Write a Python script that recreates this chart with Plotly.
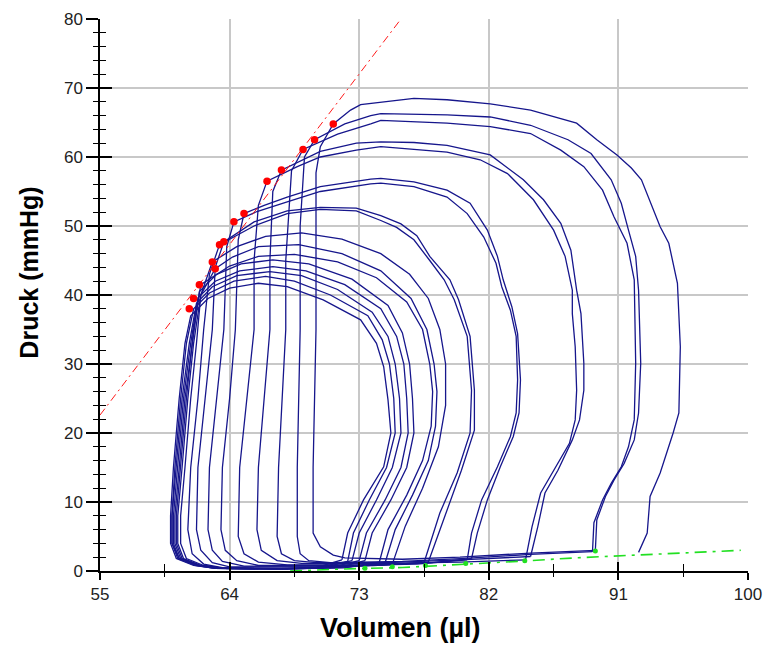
import plotly.graph_objects as go

# ---------------- data ----------------
x_ticks = [55, 64, 73, 82, 91, 100]
y_ticks = [0, 10, 20, 30, 40, 50, 60, 70, 80]

# consecutive pressure-volume cycles (volume in µl, pressure in mmHg)
c01_v = [92.4, 93.0, 93.2, 93.9, 94.8, 95.2, 95.3, 95.2, 95.1, 94.5, 93.9, 92.6, 91.9, 90.9, 89.5, 88.1, 86.5, 84.9, 82.1, 79.1, 76.8, 74.5, 73.1, 72.4, 71.2,
         70.3, 70.0, 70.0, 69.8, 69.8, 70.3, 71.2, 72.0, 76.0, 80.0, 84.9, 89.4]
c01_p = [2.7, 5.5, 10.8, 14.2, 20.0, 22.9, 32.5, 37.0, 41.7, 47.5, 49.9, 56.7, 58.4, 60.3, 62.5, 64.9, 65.9, 66.8, 67.7, 68.3, 68.5, 68.0, 67.6, 66.8, 64.8,
         61.5, 57.7, 35.0, 15.0, 5.5, 3.5, 2.3, 1.9, 1.7, 2.0, 2.6, 3.0]

c02_v = [89.4, 89.5, 90.1, 90.7, 91.4, 92.1, 92.4, 92.55, 92.4, 92.2, 91.7, 91.2, 90.5, 89.1, 87.5, 84.9, 82.1, 79.1, 74.5, 73.8, 72.0, 69.9,
         69.2, 68.9, 68.9, 68.7, 68.7, 68.9, 69.5, 71.0, 76.0, 80.0, 84.9, 89.2]
c02_p = [3.0, 7.4, 10.8, 13.2, 15.6, 19.0, 22.9, 30.1, 40.7, 45.6, 49.4, 53.3, 56.7, 60.5, 62.5, 64.6, 65.8, 66.1, 66.3, 66.0, 64.8, 62.5,
         60.0, 50.0, 35.0, 15.0, 5.0, 2.5, 1.5, 1.2, 1.4, 1.8, 2.4, 2.8]

c03_v = [89.2, 89.3, 89.9, 90.5, 91.2, 91.7, 92.1, 92.2, 92.1, 91.6, 90.7, 89.9, 88.6, 87.0, 84.9, 82.1, 79.1, 74.5, 73.8, 71.5, 69.1,
         68.3, 67.9, 67.9, 67.4, 67.3, 67.6, 68.5, 70.0, 75.0, 80.0, 84.9]
c03_p = [2.8, 7.0, 10.3, 12.7, 15.1, 18.0, 21.9, 30.1, 42.2, 47.5, 51.3, 55.2, 58.6, 61.0, 63.4, 64.4, 64.9, 65.3, 64.8, 63.3, 61.1,
         58.0, 45.0, 35.0, 15.0, 5.0, 2.5, 1.5, 1.2, 1.2, 1.6, 2.1]

c04_v = [84.9, 85.4, 85.9, 86.8, 87.8, 88.3, 88.6, 88.6, 88.4, 88.1, 87.7, 87.0, 85.8, 84.4, 82.1, 79.1, 76.8, 74.5, 72.8, 70.3, 67.6,
         67.0, 66.8, 66.8, 66.0, 65.9, 66.2, 67.3, 69.0, 75.0, 80.0, 84.55]
c04_p = [2.1, 6.4, 11.3, 14.6, 19.0, 21.9, 26.2, 30.1, 37.3, 40.7, 46.5, 50.4, 53.8, 56.7, 60.3, 61.7, 62.1, 62.2, 62.0, 60.8, 58.1,
         55.0, 45.0, 35.0, 15.0, 6.0, 3.0, 1.5, 1.1, 1.1, 1.3, 1.6]

c05_v = [84.55, 85.0, 85.6, 86.5, 87.6, 88.0, 88.1, 88.0, 87.8, 87.8, 87.3, 86.5, 85.1, 83.3, 81.4, 79.1, 74.5, 72.8, 70.3, 68.7, 66.6,
         66.0, 65.7, 65.7, 64.7, 64.6, 65.0, 66.0, 68.0, 74.0, 78.0, 80.8]
c05_p = [1.6, 6.4, 11.3, 14.6, 18.5, 21.9, 26.2, 32.5, 37.3, 40.7, 45.6, 49.4, 53.8, 57.6, 59.6, 60.7, 61.5, 61.0, 60.0, 58.6, 56.5,
         53.0, 45.0, 35.0, 15.0, 5.0, 2.5, 1.3, 0.9, 0.9, 1.2, 1.8]

c06_v = [80.8, 81.2, 81.9, 82.8, 83.7, 84.1, 84.2, 84.0, 83.6, 83.0, 82.6, 81.9, 80.7, 79.1, 76.8, 74.5, 73.8, 70.3, 68.0, 66.4, 65.0,
         64.6, 64.4, 64.0, 63.5, 63.4, 63.7, 64.5, 66.0, 72.0, 77.0, 80.5]
c06_p = [1.8, 5.5, 10.3, 15.1, 19.5, 22.9, 27.7, 34.4, 38.3, 42.2, 45.6, 49.4, 53.3, 55.2, 56.4, 56.9, 56.8, 55.7, 54.2, 53.0, 51.8,
         48.0, 35.0, 25.0, 15.0, 6.0, 3.0, 1.5, 0.8, 0.8, 1.0, 1.6]

c07_v = [80.5, 80.8, 81.5, 82.6, 83.5, 83.9, 84.0, 83.9, 83.5, 82.9, 82.5, 81.65, 80.5, 79.1, 76.8, 74.5, 73.8, 70.3, 68.0, 65.9, 64.3,
         63.8, 63.6, 63.1, 62.6, 62.5, 62.8, 63.5, 65.0, 72.0, 75.0, 77.8]
c07_p = [1.6, 5.5, 10.3, 15.1, 19.5, 22.9, 27.7, 34.0, 37.8, 41.2, 44.6, 48.4, 51.8, 54.2, 55.7, 56.2, 56.1, 55.0, 53.5, 52.1, 50.6,
         47.0, 35.0, 25.0, 15.0, 6.0, 3.0, 1.4, 0.7, 0.7, 0.9, 1.3]

c08_v = [77.8, 79.0, 80.1, 81.0, 81.0, 80.7, 79.9, 79.3, 77.9, 77.0, 75.9, 74.5, 72.8, 70.3, 68.0, 65.7, 63.6,
         63.0, 62.8, 62.3, 61.8, 61.7, 62.0, 62.8, 64.0, 70.0, 74.0, 77.5]
c08_p = [1.3, 8.4, 14.6, 20.4, 26.2, 34.0, 39.3, 42.2, 45.6, 48.6, 50.3, 51.5, 52.6, 52.7, 52.2, 50.6, 47.7,
         44.0, 35.0, 25.0, 15.0, 6.0, 3.0, 1.2, 0.6, 0.6, 0.8, 1.2]

c09_v = [77.5, 78.6, 79.8, 80.7, 80.8, 80.5, 79.6, 78.9, 77.9, 76.8, 75.6, 74.5, 72.8, 70.3, 68.0, 65.7, 63.3,
         62.6, 62.2, 61.8, 61.3, 61.1, 61.4, 62.2, 63.5, 68.0, 72.0, 75.3]
c09_p = [1.2, 8.4, 14.2, 20.0, 26.2, 34.0, 39.3, 42.2, 45.0, 48.0, 49.8, 50.8, 52.2, 52.4, 51.8, 50.0, 47.3,
         43.0, 35.0, 25.0, 15.0, 6.0, 2.5, 1.0, 0.5, 0.4, 0.6, 1.0]

c10_v = [75.3, 76.2, 77.4, 78.5, 79.0, 79.0, 78.6, 77.8, 76.5, 74.5, 71.8, 69.0, 66.5, 64.5, 62.8,
         62.0, 61.7, 61.3, 60.9, 60.6, 60.6, 61.0, 62.2, 63.5, 68.0, 72.0, 74.8]
c10_p = [1.0, 6.5, 12.0, 18.0, 24.0, 30.0, 35.0, 39.5, 43.0, 46.0, 48.1, 49.0, 48.5, 47.0, 44.8,
         40.0, 33.0, 25.0, 15.0, 8.0, 4.0, 1.8, 0.8, 0.4, 0.3, 0.5, 1.2]

c11_v = [74.8, 75.5, 76.7, 77.8, 78.3, 78.4, 78.2, 77.7, 76.6, 74.5, 71.8, 68.8, 66.0, 64.2, 63.0,
         62.0, 61.5, 61.1, 60.7, 60.4, 60.4, 60.8, 62.0, 63.5, 68.0, 72.0, 74.4]
c11_p = [1.2, 6.0, 11.0, 16.0, 21.0, 26.0, 30.0, 35.0, 39.5, 43.5, 46.0, 47.3, 47.0, 45.5, 43.8,
         40.0, 33.0, 25.0, 15.0, 8.0, 4.0, 1.8, 0.8, 0.4, 0.3, 0.5, 1.3]

c12_v = [74.4, 75.0, 76.3, 77.4, 78.0, 78.1, 77.9, 77.4, 76.3, 74.2, 71.5, 68.5, 66.0, 64.0, 62.0,
         61.5, 61.0, 60.6, 60.3, 60.3, 60.7, 62.0, 63.5, 68.0, 71.5, 73.4]
c12_p = [1.3, 6.0, 11.0, 16.0, 21.0, 26.0, 30.0, 35.0, 39.0, 42.5, 44.8, 45.9, 45.6, 44.2, 41.5,
         35.0, 25.0, 15.0, 8.0, 4.0, 1.8, 0.8, 0.4, 0.3, 0.5, 1.5]

c13_v = [73.4, 73.9, 75.2, 76.3, 76.8, 76.7, 76.5, 76.0, 75.0, 72.5, 69.5, 67.0, 64.8, 63.1, 61.9,
         61.4, 60.9, 60.5, 60.2, 60.2, 60.6, 61.9, 63.5, 68.0, 71.0, 73.0]
c13_p = [1.5, 5.5, 10.3, 15.0, 20.0, 25.0, 30.0, 34.5, 38.5, 42.3, 44.5, 45.1, 44.5, 43.0, 40.5,
         33.0, 25.0, 15.0, 8.0, 4.0, 1.8, 0.8, 0.4, 0.3, 0.5, 1.5]

c14_v = [73.0, 73.5, 74.8, 75.9, 76.4, 76.3, 76.1, 75.6, 74.5, 72.0, 69.3, 67.0, 64.7, 63.0, 61.8,
         61.3, 60.8, 60.4, 60.1, 60.1, 60.5, 61.8, 63.5, 67.5, 70.5, 72.5]
c14_p = [1.5, 5.5, 10.3, 15.0, 20.0, 25.0, 30.0, 34.0, 38.0, 41.5, 43.5, 44.1, 43.5, 42.0, 39.6,
         33.0, 25.0, 15.0, 8.0, 4.0, 1.8, 0.8, 0.4, 0.3, 0.5, 1.5]

c15_v = [72.5, 73.0, 74.2, 75.3, 75.9, 75.8, 75.5, 75.0, 73.9, 71.5, 69.0, 66.8, 64.5, 62.8, 61.7,
         61.2, 60.7, 60.3, 60.0, 60.0, 60.5, 61.7, 63.0, 67.0, 70.0, 72.2]
c15_p = [1.5, 5.5, 10.3, 15.0, 20.0, 25.0, 30.0, 34.0, 37.5, 40.8, 42.8, 43.4, 42.8, 41.2, 38.8,
         33.0, 25.0, 15.0, 8.0, 4.0, 1.8, 0.8, 0.4, 0.3, 0.5, 1.4]

c16_v = [72.2, 72.6, 73.7, 74.9, 75.5, 75.4, 75.1, 74.6, 73.6, 71.0, 68.5, 66.5, 64.3, 62.6, 61.5,
         61.0, 60.6, 60.2, 60.0, 60.0, 60.4, 61.6, 63.0, 67.0, 70.0, 71.8]
c16_p = [1.4, 5.5, 10.3, 15.0, 20.0, 25.0, 30.0, 33.5, 37.0, 40.0, 42.0, 42.7, 42.0, 40.3, 38.0,
         33.0, 25.0, 15.0, 8.0, 4.0, 1.8, 0.8, 0.4, 0.3, 0.5, 1.6]

c17_v = [71.8, 72.2, 73.3, 74.7, 75.2, 75.0, 74.7, 74.2, 73.1, 70.5, 68.0, 66.0, 64.0, 62.5, 61.3,
         60.9, 60.5, 60.1, 59.9, 59.9, 60.3, 61.5, 63.0, 66.0]
c17_p = [1.6, 5.5, 10.3, 15.1, 20.0, 24.8, 29.6, 33.0, 36.4, 39.3, 41.2, 41.7, 41.0, 39.5, 37.0,
         33.0, 25.0, 15.0, 8.0, 4.0, 1.8, 0.8, 0.4, 0.3]

# end-systolic points (red) and ESPVR line
es_v = [71.2, 69.9, 69.1, 67.6, 66.6, 65.0, 64.3, 63.6, 63.3, 62.8, 63.0, 61.9, 61.5, 61.2]
es_p = [64.8, 62.5, 61.1, 58.1, 56.5, 51.8, 50.6, 47.7, 47.3, 44.8, 43.8, 41.5, 39.5, 38.0]
espvr_v = [55.0, 75.9]
espvr_p = [22.6, 80.0]

# end-diastolic points (green) and EDPVR line
ed_v = [89.4, 84.5, 80.4, 77.6, 75.3, 73.4]
ed_p = [2.9, 1.5, 1.1, 0.8, 0.6, 0.4]
edpvr_v = [68.2, 72.0, 76.0, 80.0, 84.0, 88.0, 92.0, 96.0, 99.5]
edpvr_p = [0.0, 0.3, 0.5, 0.9, 1.4, 1.9, 2.3, 2.6, 3.0]

cycles = [(c01_v, c01_p), (c02_v, c02_p), (c03_v, c03_p), (c04_v, c04_p), (c05_v, c05_p),
          (c06_v, c06_p), (c07_v, c07_p), (c08_v, c08_p), (c09_v, c09_p), (c10_v, c10_p),
          (c11_v, c11_p), (c12_v, c12_p), (c13_v, c13_p), (c14_v, c14_p), (c15_v, c15_p),
          (c16_v, c16_p), (c17_v, c17_p)]

# ---------------- figure ----------------
LOOP_COLOR = "#16168c"
fig = go.Figure()

for v, p in cycles:
    fig.add_trace(go.Scatter(x=v, y=p, mode="lines",
                             line=dict(color=LOOP_COLOR, width=1.3),
                             hoverinfo="skip", showlegend=False))

fig.add_trace(go.Scatter(x=espvr_v, y=espvr_p, mode="lines",
                         line=dict(color="#ff1a1a", width=1, dash="8px,4px,2px,4px"),
                         hoverinfo="skip", showlegend=False))
fig.add_trace(go.Scatter(x=edpvr_v, y=edpvr_p, mode="lines",
                         line=dict(color="#22e022", width=1.6, dash="12px,6px,3px,6px"),
                         hoverinfo="skip", showlegend=False))
fig.add_trace(go.Scatter(x=es_v, y=es_p, mode="markers",
                         marker=dict(color="#ff0000", size=7.5, line=dict(width=0)),
                         showlegend=False))
fig.add_trace(go.Scatter(x=ed_v, y=ed_p, mode="markers",
                         marker=dict(color="#22e022", size=5, line=dict(width=0)),
                         showlegend=False))
# invisible trace to activate the overlay axes used for the inner half of the ticks
fig.add_trace(go.Scatter(x=espvr_v, y=espvr_p, mode="markers", xaxis="x2", yaxis="y2",
                         marker=dict(opacity=0), hoverinfo="skip", showlegend=False))

tick_font = dict(family="Liberation Sans, Arial, sans-serif", size=17, color="#222222")
grid_col = "#c8c8c8"

fig.update_layout(
    width=765, height=645,
    margin=dict(l=100, r=17, t=19, b=74, autoexpand=False),
    plot_bgcolor="white", paper_bgcolor="white",
    showlegend=False,
    xaxis=dict(range=[55, 100], tickmode="array", tickvals=x_ticks,
               ticktext=[str(t) for t in x_ticks], automargin=False,
               showgrid=True, gridcolor=grid_col, gridwidth=1.5,
               showline=True, linecolor="black", linewidth=1.5,
               ticks="outside", ticklen=7, tickwidth=1.5, tickcolor="black",
               minor=dict(tick0=55, dtick=4.5, ticks="outside", ticklen=4,
                          tickwidth=1, tickcolor="black", showgrid=False),
               zeroline=False, tickfont=tick_font, fixedrange=True),
    yaxis=dict(range=[0, 80], tickmode="array", tickvals=y_ticks, automargin=False,
               showgrid=True, gridcolor=grid_col, gridwidth=1.5,
               showline=True, linecolor="black", linewidth=1.5,
               ticks="outside", ticklen=12, tickwidth=1.5, tickcolor="black",
               minor=dict(tick0=0, dtick=2, ticks="outside", ticklen=5,
                          tickwidth=1.2, tickcolor="black", showgrid=False),
               zeroline=False, tickfont=tick_font, fixedrange=True),
    xaxis2=dict(range=[55, 100], overlaying="x", anchor="y", side="bottom",
                tickmode="array", tickvals=x_ticks, showticklabels=False, automargin=False,
                showgrid=False, zeroline=False, showline=False,
                ticks="inside", ticklen=9, tickwidth=1.5, tickcolor="black",
                minor=dict(tick0=55, dtick=4.5, ticks="inside", ticklen=7,
                           tickwidth=1, tickcolor="black", showgrid=False)),
    yaxis2=dict(range=[0, 80], overlaying="y", anchor="x", side="left",
                tickmode="array", tickvals=y_ticks, showticklabels=False, automargin=False,
                showgrid=False, zeroline=False, showline=False,
                ticks="inside", ticklen=12, tickwidth=1.5, tickcolor="black",
                minor=dict(tick0=0, dtick=2, ticks="inside", ticklen=6,
                           tickwidth=1.2, tickcolor="black", showgrid=False)),
    annotations=[
        dict(text="<b>Volumen (µl)</b>", xref="paper", yref="paper",
             x=0.4637, y=-0.103, xanchor="center", yanchor="middle", showarrow=False,
             font=dict(family="Liberation Sans, Arial, sans-serif", size=27, color="black")),
        dict(text="<b>Druck (mmHg)</b>", xref="paper", yref="paper",
             x=-0.11, y=0.54, xanchor="center", yanchor="middle", showarrow=False,
             textangle=-90,
             font=dict(family="Liberation Sans, Arial, sans-serif", size=25, color="black")),
    ],
)

fig.write_html("out.html")
